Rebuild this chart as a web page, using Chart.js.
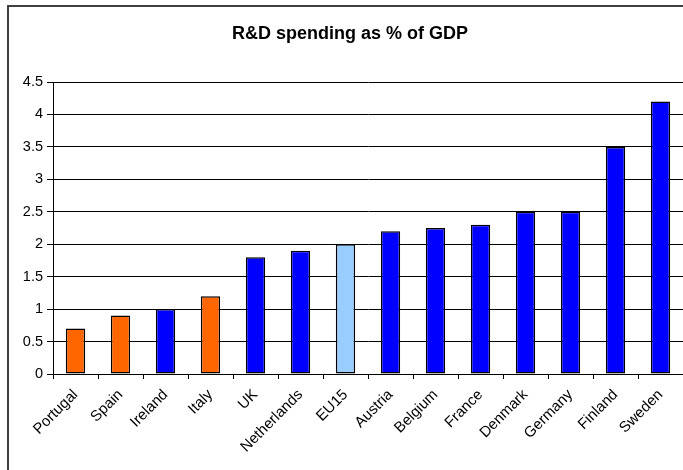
<!DOCTYPE html>
<html>
<head>
<meta charset="utf-8">
<title>R&amp;D spending as % of GDP</title>
<script src="https://cdn.jsdelivr.net/npm/chart.js@4/dist/chart.umd.min.js"></script>
<style>
  html, body { margin: 0; padding: 0; background: #fff; }
  #wrap { width: 683px; height: 470px; position: relative; }
</style>
</head>
<body>
<div id="wrap"><canvas id="c" width="683" height="470"></canvas></div>
<script>
// Gross expenditure on R&D, share of GDP
const countries = ['Portugal', 'Spain', 'Ireland', 'Italy', 'UK', 'Netherlands', 'EU15',
                   'Austria', 'Belgium', 'France', 'Denmark', 'Germany', 'Finland', 'Sweden'];
const spending = [0.7, 0.9, 1.0, 1.2, 1.8, 1.9, 2.0, 2.2, 2.25, 2.3, 2.5, 2.5, 3.5, 4.2];
// group of each country: 'low' = southern/low spenders, 'avg' = EU average, 'other'
const groups = ['low', 'low', 'other', 'low', 'other', 'other', 'avg',
                'other', 'other', 'other', 'other', 'other', 'other', 'other'];
const yTicks = [0, 0.5, 1, 1.5, 2, 2.5, 3, 3.5, 4, 4.5];

const groupColor = { low: '#FF6600', avg: '#99CCFF', other: '#0000FF' };
const FONT = "'Liberation Sans', Arial, sans-serif";

// frame around the whole chart
const framePlugin = {
  id: 'frame',
  beforeDraw(chart) {
    const ctx = chart.ctx;
    ctx.save();
    ctx.fillStyle = '#ffffff';
    ctx.fillRect(0, 0, chart.width, chart.height);
    ctx.strokeStyle = '#404040';
    ctx.lineWidth = 2;
    ctx.beginPath();
    ctx.moveTo(8, chart.height + 5);
    ctx.lineTo(8, 6);
    ctx.lineTo(chart.width + 5, 6);
    ctx.stroke();
    ctx.restore();
  }
};

new Chart(document.getElementById('c'), {
  type: 'bar',
  data: {
    labels: countries,
    datasets: [{
      data: spending,
      backgroundColor: groups.map(g => groupColor[g]),
      borderColor: '#000000',
      borderWidth: 1.5,
      borderSkipped: false,
      barPercentage: 0.43,
      categoryPercentage: 1.0
    }]
  },
  options: {
    responsive: false,
    animation: false,
    devicePixelRatio: 1,
    layout: { padding: { left: 17, right: 0, top: 0, bottom: 0 } },
    plugins: {
      legend: { display: false },
      tooltip: { enabled: false },
      title: {
        display: true,
        text: 'R&D spending as % of GDP',
        color: '#000000',
        font: { family: FONT, size: 18, weight: 'bold', lineHeight: 1.2 },
        padding: { top: 23, bottom: 37.4 }
      }
    },
    scales: {
      x: {
        offset: true,
        grid: { display: true, drawOnChartArea: false, drawTicks: true, tickLength: 5, color: '#000000', offset: true },
        border: { display: true, color: '#000000', width: 1 },
        ticks: {
          color: '#000000',
          font: { family: FONT, size: 15 },
          minRotation: 45,
          maxRotation: 45,
          autoSkip: false,
          padding: 7
        },
        afterFit(scale) { scale.height = 96; }
      },
      y: {
        min: 0,
        max: 4.5,
        afterBuildTicks(scale) { scale.ticks = yTicks.map(v => ({ value: v })); },
        grid: { color: '#000000', lineWidth: 1, tickLength: 6, drawTicks: true },
        border: { display: true, color: '#000000', width: 1 },
        ticks: {
          color: '#000000',
          font: { family: FONT, size: 14.5 },
          padding: 4,
          callback: v => String(v)
        },
        afterFit(scale) { scale.width = 36; }
      }
    }
  },
  plugins: [framePlugin]
});
</script>
</body>
</html>
